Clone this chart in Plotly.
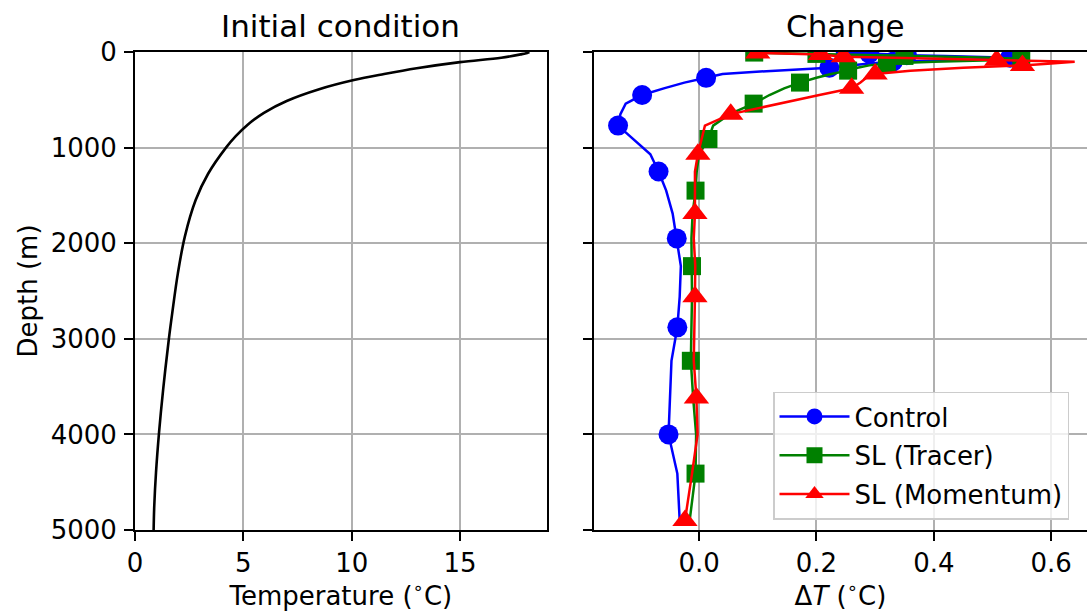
import plotly.graph_objects as go

# ---------------- data ----------------
# Initial condition: temperature profile
init_depth = [0, 10, 25, 60, 106, 170, 230, 293, 389, 512, 636, 760, 880, 1000, 1271,
              1549, 1931, 2313, 2729, 3007, 3528, 3979, 4396, 4743, 5000]
init_temp = [18.2, 18.1, 17.8, 16.9, 15.0, 13.0, 11.5, 10.1, 8.5, 7.0, 5.95, 5.2,
             4.65, 4.2, 3.38, 2.80, 2.30, 1.98, 1.72, 1.56, 1.30, 1.11, 0.97, 0.89, 0.86]

# Change: model levels (m) and temperature change per experiment
levels = [2, 6, 10, 15, 20, 26, 33, 41, 50, 60, 72, 86, 102, 120, 140, 165, 195, 230,
          270, 320, 380, 450, 540, 650, 770, 910, 1070, 1250, 1450, 1690, 1950, 2240,
          2560, 2880, 3230, 3620, 4000, 4410, 4900]

control = [0.25, 0.27, 0.28, 0.29, 0.31, 0.33, 0.354, 0.42, 0.49, 0.53, 0.50, 0.42,
           0.33, 0.29, 0.255, 0.222, 0.13, 0.04, 0.012, -0.025, -0.06, -0.097, -0.125,
           -0.134, -0.138, -0.112, -0.083, -0.069, -0.056, -0.045, -0.038, -0.031,
           -0.033, -0.037, -0.047, -0.050, -0.052, -0.037, -0.033]

sl_tracer = [0.08, 0.094, 0.12, 0.16, 0.20, 0.25, 0.30, 0.35, 0.42, 0.50, 0.549, 0.50,
             0.40, 0.32, 0.29, 0.27, 0.254, 0.225, 0.20, 0.172, 0.145, 0.12, 0.093,
             0.052, 0.024, 0.016, 0.0, -0.004, -0.006, -0.011, -0.013, -0.012, -0.012,
             -0.013, -0.014, -0.010, -0.005, -0.006, -0.016]

sl_momentum = [0.09, 0.095, 0.10, 0.14, 0.18, 0.207, 0.22, 0.235, 0.246, 0.33, 0.43,
               0.507, 0.64, 0.60, 0.551, 0.45, 0.36, 0.30, 0.285, 0.275, 0.26, 0.205,
               0.135, 0.054, 0.010, 0.004, -0.002, -0.007, -0.007, -0.007, -0.009,
               -0.0065, -0.007, -0.0085, -0.009, -0.0045, -0.0025, -0.012, -0.024]

series_names = ["Control", "SL (Tracer)", "SL (Momentum)"]
series_values = [control, sl_tracer, sl_momentum]
marker_offsets = [0, 1, 2]   # markers on every third level
marker_every = 3

depth_ticks = [0, 1000, 2000, 3000, 4000, 5000]
temp_ticks = [0, 5, 10, 15]
dT_ticks = [0.0, 0.2, 0.4, 0.6]

# ---------------- styles ----------------
colors = ["#0000ff", "#008000", "#ff0000"]
symbols = ["circle", "square", "triangle-up"]
msizes = [20, 18, 22]
FONT = "DejaVu Sans"
GRID = "#b0b0b0"

fig = go.Figure()

fig.add_trace(go.Scatter(x=init_temp, y=init_depth, mode="lines",
                         line=dict(color="black", width=2.6, shape="spline", smoothing=1.0),
                         xaxis="x", yaxis="y", showlegend=False, hoverinfo="skip"))

for name, vals, col, sym, ms, off in zip(series_names, series_values, colors, symbols,
                                          msizes, marker_offsets):
    fig.add_trace(go.Scatter(x=vals, y=levels, mode="lines",
                             line=dict(color=col, width=2.5),
                             xaxis="x2", yaxis="y2", showlegend=False,
                             legendgroup=name))
    mx = vals[off::marker_every]
    my = levels[off::marker_every]
    fig.add_trace(go.Scatter(x=mx, y=my, mode="markers",
                             marker=dict(color=col, symbol=sym, size=ms),
                             xaxis="x2", yaxis="y2", showlegend=False,
                             legendgroup=name))

for name, col, sym, ms in zip(series_names, colors, symbols, msizes):
    fig.add_trace(go.Scatter(x=[None], y=[None], mode="lines+markers", name=name,
                             line=dict(color=col, width=2.5),
                             marker=dict(color=col, symbol=sym, size=ms),
                             xaxis="x2", yaxis="y2", legendgroup=name))

W, H = 1087, 611
axis_common = dict(showgrid=True, gridcolor=GRID, gridwidth=2, zeroline=False,
                   showline=True, linecolor="black", linewidth=2, automargin=False,
                   ticks="outside", ticklen=9, tickwidth=2, tickcolor="black",
                   tickfont=dict(family=FONT, size=26, color="black"))

fig.update_layout(
    width=W, height=H,
    margin=dict(l=0, r=0, t=52, b=81, autoexpand=False),
    paper_bgcolor="white", plot_bgcolor="white",
    font=dict(family=FONT, size=26, color="black"),
    xaxis=dict(domain=[135 / W, 546.7 / W], range=[0, 19], tickvals=temp_ticks,
               mirror=True, anchor="y",
               title=dict(text="Temperature (<sup>∘</sup>C)",
                          font=dict(family=FONT, size=26), standoff=4),
               **axis_common),
    yaxis=dict(domain=[0, 1], range=[5000, 0], tickvals=depth_ticks, mirror=True,
               anchor="x", ticklabelstandoff=2,
               title=dict(text="Depth (m)", font=dict(family=FONT, size=26), standoff=6),
               **axis_common),
    xaxis2=dict(domain=[594 / W, 1.0], range=[-0.179, 0.661], tickvals=dT_ticks,
                ticktext=["%.1f" % v for v in dT_ticks], mirror=True, anchor="y2",
                title=dict(text="Δ<i>T</i> (<sup>∘</sup>C)",
                           font=dict(family=FONT, size=26), standoff=4),
                **axis_common),
    yaxis2=dict(domain=[0, 1], range=[5000, 0], tickvals=depth_ticks, matches="y",
                showticklabels=False, mirror=False, anchor="x2", **axis_common),
    legend=dict(x=773 / W, y=(530.5 - 392) / 478, xanchor="left", yanchor="top",
                bgcolor="rgba(255,255,255,0.8)", bordercolor="#cccccc", borderwidth=1.5,
                font=dict(family=FONT, size=26, color="black"), itemwidth=70,
                traceorder="grouped", tracegroupgap=2),
    annotations=[
        dict(text="Initial condition", x=(135 + 546.7) / 2 / W, y=1, xref="paper",
             yref="paper", xanchor="center", yanchor="bottom", yshift=6, showarrow=False,
             font=dict(family=FONT, size=31, color="black")),
        dict(text="Change", x=(594 + 1097) / 2 / W, y=1, xref="paper", yref="paper",
             xanchor="center", yanchor="bottom", yshift=6, showarrow=False,
             font=dict(family=FONT, size=31, color="black")),
    ],
)

fig.write_html("out.html", config={"displayModeBar": False},
               post_script="document.body.style.margin='0';document.body.style.overflow='hidden';")
